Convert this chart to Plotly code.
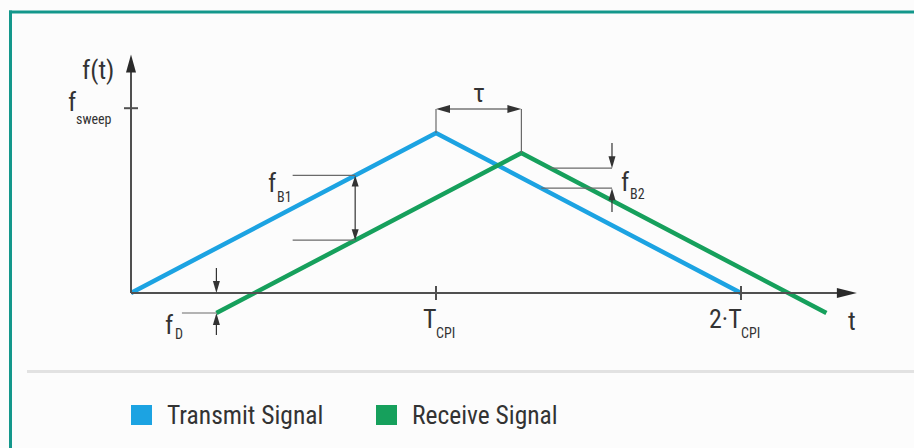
import plotly.graph_objects as go

# ---- FMCW triangle sweep: time in units of T_CPI, frequency in units of the transmit peak ----
t_transmit = [0.0, 1.0, 2.0]
f_transmit = [0.0, 1.0, 0.0]
t_receive = [0.28, 1.28, 2.28]
f_receive = [-0.125, 0.875, -0.125]

series_names = ["Transmit Signal", "Receive Signal"]

f_sweep_level = 1.155          # level of the f_sweep tick
tau_level = 1.15               # height of the tau dimension arrow
t_axis_end = 2.38              # tip of the time axis
f_axis_end = 1.49              # tip of the frequency axis
x_tick_values = [1.0, 2.0]
x_tick_labels = [("T", "CPI"), ("2·T", "CPI")]

t_fb1 = 0.735                  # where f_B1 is measured (rising edge)
t_fb1_leader = 0.53
t_fb2 = 1.577                  # where f_B2 is measured (falling edge)
fb2_levels = [0.78, 0.655]     # upper / lower f_B2 reference levels
fd_stems = [0.156, -0.2625]    # outer ends of the f_D arrows
fb2_stems = [0.9375, 0.506]    # outer ends of the f_B2 arrows
t_fd_leader = 0.167

# ---- styling ----
W, H = 914, 448
BLUE = "#1ca3e2"
GREEN = "#16a05c"
TEAL = "#13978b"
INK = "#333333"
AXIS = "#505050"
THIN = "#6a6a6a"
BG = "#fcfcfc"
FONT = "Roboto Condensed, Liberation Sans Narrow, sans-serif"

# axis ranges chosen so the plot area covers the whole page
X0, X1 = -131 / 305, (W - 131) / 305
Y0, Y1 = -(H - 293) / 160, 293 / 160
SX = W / (X1 - X0)   # px per time unit
SY = H / (Y1 - Y0)   # px per frequency unit

shapes = []
annotations = []


def seg(xa, ya, xb, yb, color=THIN, width=1.2):
    shapes.append(dict(type="line", xref="x", yref="y", x0=xa, y0=ya, x1=xb, y1=yb,
                       line=dict(color=color, width=width)))


def head(tx, ty, dx, dy, length=12, width=7, color=INK):
    """Filled arrowhead with its tip at (tx, ty); (dx, dy) is the pixel direction (y up)."""
    bx = tx - dx * length / SX
    by = ty - dy * length / SY
    nx, ny = -dy, dx
    c1 = (bx + nx * width / 2 / SX, by + ny * width / 2 / SY)
    c2 = (bx - nx * width / 2 / SX, by - ny * width / 2 / SY)
    shapes.append(dict(type="path", xref="x", yref="y",
                       path=f"M{tx},{ty} L{c1[0]},{c1[1]} L{c2[0]},{c2[1]} Z",
                       fillcolor=color, line=dict(width=0)))


def text(s, xpx, ypx, size, anchor="center", color=INK):
    annotations.append(dict(text=s, xref="paper", yref="paper", x=xpx / W, y=1 - ypx / H,
                            xanchor=anchor, yanchor="middle", showarrow=False,
                            font=dict(family=FONT, size=size, color=color)))


def data_text(s, x, y, size, xshift=0, yshift=0, anchor="center"):
    annotations.append(dict(text=s, xref="x", yref="y", x=x, y=y, xanchor=anchor,
                            yanchor="middle", showarrow=False, xshift=xshift, yshift=yshift,
                            font=dict(family=FONT, size=size, color=INK)))


fig = go.Figure()
fig.add_trace(go.Scatter(x=t_transmit, y=f_transmit, mode="lines", name=series_names[0],
                         line=dict(color=BLUE, width=4.5), showlegend=False, hoverinfo="skip"))
fig.add_trace(go.Scatter(x=t_receive, y=f_receive, mode="lines", name=series_names[1],
                         line=dict(color=GREEN, width=4.5), showlegend=False, hoverinfo="skip"))

# frame and separator
shapes.append(dict(type="line", xref="paper", yref="paper", x0=10.5 / W, x1=10.5 / W,
                   y0=0, y1=1 - 10.5 / H, line=dict(color=TEAL, width=3)))
shapes.append(dict(type="line", xref="paper", yref="paper", x0=9 / W, x1=1,
                   y0=1 - 12 / H, y1=1 - 12 / H, line=dict(color=TEAL, width=3)))
shapes.append(dict(type="line", xref="paper", yref="paper", x0=27 / W, x1=1,
                   y0=1 - 371.5 / H, y1=1 - 371.5 / H, line=dict(color="#e2e2e2", width=3)))

# axes with arrow tips
seg(0, 0, 0, f_axis_end - 10 / SY, color=AXIS, width=2)
head(0, f_axis_end, 0, 1, length=18, width=10, color="#2a2a2a")
seg(0, 0, t_axis_end - 10 / SX, 0, color=AXIS, width=2)
head(t_axis_end, 0, 1, 0, length=20, width=10, color="#2a2a2a")

# ticks
tick = 7
seg(-tick / SX, f_sweep_level, tick / SX, f_sweep_level, color=AXIS, width=2)
for xv in x_tick_values:
    seg(xv, -tick / SY, xv, tick / SY, color=AXIS, width=2)

# tau: extension lines and double arrow between the two peaks
peak_t = t_transmit[1]
peak_r = t_receive[1]
seg(peak_t, f_transmit[1], peak_t, tau_level)
seg(peak_r, f_receive[1], peak_r, tau_level)
seg(peak_t + 8 / SX, tau_level, peak_r - 8 / SX, tau_level, color=INK)
head(peak_t, tau_level, -1, 0, length=14, width=8)
head(peak_r, tau_level, 1, 0, length=14, width=8)

# f_B1 on the rising edge
fb1_top = f_transmit[0] + (t_fb1 - t_transmit[0]) * (f_transmit[1] - f_transmit[0]) / (t_transmit[1] - t_transmit[0])
fb1_bot = f_receive[0] + (t_fb1 - t_receive[0]) * (f_receive[1] - f_receive[0]) / (t_receive[1] - t_receive[0])
seg(t_fb1_leader, fb1_top, t_fb1, fb1_top)
seg(t_fb1_leader, fb1_bot, t_fb1, fb1_bot)
seg(t_fb1, fb1_top - 6 / SY, t_fb1, fb1_bot + 6 / SY, color=INK)
head(t_fb1, fb1_top, 0, 1, length=11, width=7)
head(t_fb1, fb1_bot, 0, -1, length=11, width=7)

# f_D at the start of the echo
t_fd = t_receive[0]
seg(t_fd_leader, f_receive[0], t_fd, f_receive[0])
seg(t_fd, fd_stems[0], t_fd, 6 / SY, color=INK)
head(t_fd, 0, 0, -1, length=12, width=7)
seg(t_fd, fd_stems[1], t_fd, f_receive[0] - 6 / SY, color=INK)
head(t_fd, f_receive[0], 0, 1, length=12, width=7)

# f_B2 on the falling edge
t_up_start = t_receive[1] + (f_receive[1] - fb2_levels[0])
t_lo_start = t_transmit[1] + (f_transmit[1] - fb2_levels[1])
seg(t_up_start, fb2_levels[0], t_fb2, fb2_levels[0])
seg(t_lo_start, fb2_levels[1], t_fb2, fb2_levels[1])
seg(t_fb2, fb2_stems[0], t_fb2, fb2_levels[0] + 6 / SY, color=INK)
head(t_fb2, fb2_levels[0], 0, -1, length=12, width=7)
seg(t_fb2, fb2_stems[1], t_fb2, fb2_levels[1] - 6 / SY, color=INK)
head(t_fb2, fb2_levels[1], 0, 1, length=12, width=7)

# labels
MAIN, SUB = 26, 14
text("f(t)", 98, 70, MAIN)
text("f", 72, 102, MAIN)
text("sweep", 94, 119, SUB)
text("τ", 479, 93, MAIN)
text("f", 272, 183, MAIN)
text("B1", 284, 197, SUB)
text("f", 625, 182, MAIN)
text("B2", 637, 194, SUB)
text("f", 169, 325, MAIN)
text("D", 179, 334, SUB)
text("t", 852, 321, MAIN)
for xv, (main, sub) in zip(x_tick_values, x_tick_labels):
    data_text(main, xv, 0, MAIN, yshift=-26, anchor="right", xshift=3)
    data_text(sub, xv, 0, SUB, yshift=-40, anchor="left", xshift=-2)

# legend
for (x_sq, color, name) in [(131, BLUE, series_names[0]), (376, GREEN, series_names[1])]:
    shapes.append(dict(type="rect", xref="paper", yref="paper",
                       x0=x_sq / W, x1=(x_sq + 21) / W, y0=1 - 425 / H, y1=1 - 405 / H,
                       fillcolor=color, line=dict(width=0)))
    text(name, x_sq + 34, 415, 25.5, anchor="left")

fig.update_layout(
    width=W, height=H, autosize=False,
    margin=dict(l=0, r=0, t=0, b=0, pad=0),
    paper_bgcolor=BG, plot_bgcolor=BG,
    xaxis=dict(range=[X0, X1], visible=False, fixedrange=True),
    yaxis=dict(range=[Y0, Y1], visible=False, fixedrange=True),
    shapes=shapes, annotations=annotations,
    showlegend=False,
)

fig.write_html("out.html")
